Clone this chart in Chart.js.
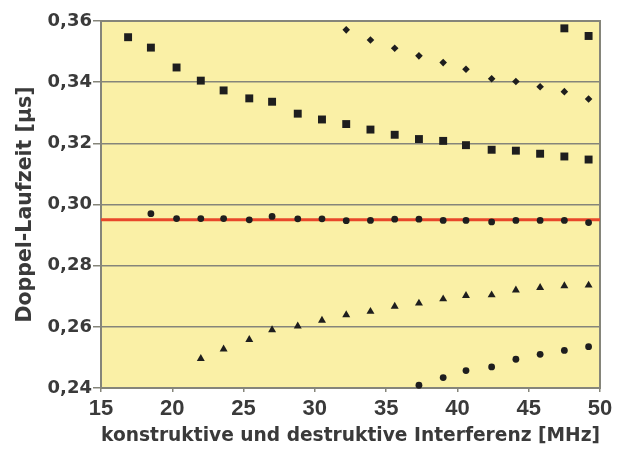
<!DOCTYPE html>
<html>
<head>
<meta charset="utf-8">
<script src="https://cdn.jsdelivr.net/npm/chart.js@4/dist/chart.umd.min.js"></script>
<style>
  html, body { margin: 0; padding: 0; background: #fff; }
  #wrap { width: 624px; height: 452px; }
</style>
</head>
<body>
<div id="wrap"><canvas id="myChart" width="624" height="452"></canvas></div>
<script>
// frequency of each measurement [MHz]
const freqMHz = [16.9, 18.5, 20.3, 22.0, 23.6, 25.4, 27.0, 28.8, 30.5, 32.2,
                 33.9, 35.6, 37.3, 39.0, 40.6, 42.4, 44.1, 45.8, 47.5, 49.2];

// Doppel-Laufzeit [µs], null = no point at that frequency
const squaresLow = [0.3547, 0.3513, 0.3448, 0.3405, 0.3373, 0.3347, 0.3336, 0.3297, 0.3278, 0.3263,
                    0.3245, 0.3228, 0.3214, 0.3208, 0.3194, 0.3179, 0.3176, 0.3166, 0.3157, 0.3147];
const squaresHigh = [null, null, null, null, null, null, null, null, null, null,
                     null, null, null, null, null, null, null, null, 0.3576, 0.3551];
const diamonds = [null, null, null, null, null, null, null, null, null, 0.3571,
                  0.3538, 0.3511, 0.3486, 0.3464, 0.3442, 0.3411, 0.3402, 0.3385, 0.3369, 0.3345];
const circlesMid = [null, 0.2970, 0.2954, 0.2954, 0.2954, 0.2950, 0.2961, 0.2953, 0.2953, 0.2947,
                    0.2948, 0.2952, 0.2952, 0.2948, 0.2948, 0.2943, 0.2948, 0.2948, 0.2948, 0.2941];
const triangles = [null, null, null, 0.2496, 0.2527, 0.2558, 0.2590, 0.2602, 0.2621, 0.2639,
                   0.2650, 0.2667, 0.2677, 0.2691, 0.2702, 0.2704, 0.2720, 0.2728, 0.2734, 0.2736];
const circlesLow = [null, null, null, null, null, null, null, null, null, null,
                    null, null, 0.2409, 0.2434, 0.2457, 0.2469, 0.2494, 0.2510, 0.2523, 0.2535];

// mean level (red line)
const fitLevel = 0.295;

// axis ranges / tick labels
const xRange = [15, 50];
const xStep = 5;
const yRange = [0.24, 0.36];
const yStep = 0.02;

const pts = ys => ys
  .map((y, i) => y === null ? null : {x: freqMHz[i], y: y})
  .filter(p => p !== null);

const ink = '#3a3a3a';
const markColor = '#1e1e1e';
const gridColor = '#85857a';
const arialish = 'Liberation Sans, Arial, sans-serif';
const wide = 'DejaVu Sans, sans-serif';

const marker = (data, style, radius) => ({
  type: 'scatter',
  data: data,
  pointStyle: style,
  pointRadius: radius,
  pointHoverRadius: radius,
  backgroundColor: markColor,
  borderColor: markColor,
  borderWidth: 0,
  clip: false,
  order: 1
});

// yellow plot background + frame around the plot area
const plotFrame = {
  id: 'plotFrame',
  beforeDraw(chart) {
    const {ctx, chartArea: a} = chart;
    ctx.save();
    ctx.fillStyle = '#faf0a6';
    ctx.fillRect(a.left, a.top, a.right - a.left, a.bottom - a.top);
    ctx.restore();
  },
  beforeDatasetsDraw(chart) {
    const {ctx, chartArea: a} = chart;
    ctx.save();
    ctx.strokeStyle = gridColor;
    ctx.lineWidth = 2;
    ctx.strokeRect(a.left, a.top, a.right - a.left, a.bottom - a.top);
    ctx.restore();
  }
};

const config = {
  type: 'scatter',
  data: {
    datasets: [
      {
        type: 'line',
        data: xRange.map(x => ({x: x, y: fitLevel})),
        borderColor: '#e8472a',
        borderWidth: 3,
        pointRadius: 0,
        clip: false,
        order: 10
      },
      marker(pts(squaresLow), 'rect', 5.6),
      marker(pts(squaresHigh), 'rect', 5.6),
      marker(pts(diamonds), 'rectRot', 3.8),
      marker(pts(circlesMid), 'circle', 3.4),
      marker(pts(triangles), 'triangle', 4.6),
      marker(pts(circlesLow), 'circle', 3.4)
    ]
  },
  options: {
    responsive: false,
    animation: false,
    layout: {padding: {left: 0, right: 24, top: 21, bottom: 0}},
    scales: {
      x: {
        type: 'linear',
        min: xRange[0],
        max: xRange[1],
        afterFit: s => { s.height = 64; },
        ticks: {
          stepSize: xStep,
          color: ink,
          padding: 4,
          font: {family: arialish, size: 22, weight: 'bold'}
        },
        grid: {drawOnChartArea: false, drawTicks: true, tickLength: 4, color: gridColor, lineWidth: 1.5},
        border: {display: false},
        title: {
          display: true,
          text: 'konstruktive und destruktive Interferenz [MHz]',
          color: ink,
          padding: {top: 0, bottom: 4},
          font: {family: wide, size: 19.5, weight: 'bold'}
        }
      },
      y: {
        min: yRange[0],
        max: yRange[1],
        afterFit: s => { s.width = 101; },
        ticks: {
          stepSize: yStep,
          color: ink,
          padding: 1,
          font: {family: wide, size: 18, weight: 'bold'},
          callback: v => v.toFixed(2).replace('.', ',')
        },
        grid: {color: gridColor, lineWidth: 1.5, tickLength: 8},
        border: {display: false},
        title: {
          display: true,
          text: 'Doppel-Laufzeit [µs]',
          color: ink,
          padding: {top: 13, bottom: 0},
          font: {family: wide, size: 20.5, weight: 'bold'}
        }
      }
    },
    plugins: {
      legend: {display: false},
      tooltip: {enabled: false}
    }
  },
  plugins: [plotFrame]
};

const myChart = new Chart(document.getElementById('myChart'), config);
</script>
</body>
</html>
